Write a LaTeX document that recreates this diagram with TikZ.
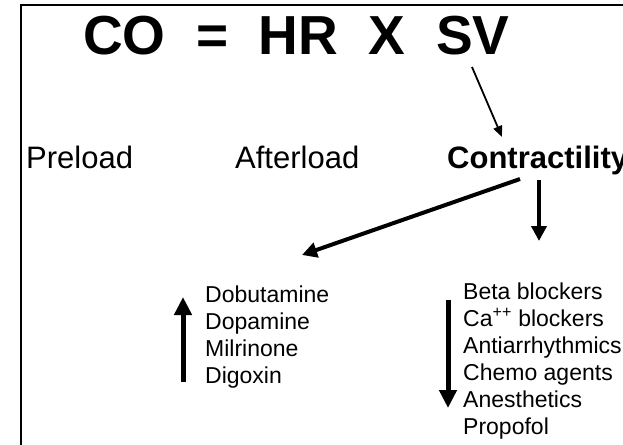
\documentclass[tikz,border=0pt]{standalone}
\usepackage{fontspec}
\setmainfont{Liberation Sans}
\usetikzlibrary{arrows.meta}
\begin{document}
\begin{tikzpicture}[x=1pt,y=-1pt,
  lbl/.style={inner sep=0pt, anchor=base west},
  midfont/.style={font=\fontsize{31}{36}\selectfont},
  listnode/.style={inner sep=0pt, anchor=north west, align=left, font=\fontsize{23}{27}\selectfont},
  thinarrow/.style={line width=1.8pt, -{Triangle[length=11pt,width=9pt]}},
  boldarrow/.style={line width=4pt, -{Triangle[length=15pt,width=15pt]}},
  listarrow/.style={line width=5pt, -{Triangle[length=18pt,width=17pt]}}]
\useasboundingbox (0,0) rectangle (623,444);
\clip (0,0) rectangle (623,444);
\fill[white] (0,0) rectangle (623,444);
\draw[line width=2pt] (21,450) -- (21,5) -- (630,5);
% title
\node[lbl, font=\bfseries\fontsize{55}{60}\selectfont] (eq) at (83,55) {CO\ \ =\ \ HR\ \ X\ \ SV};
% middle row
\node[lbl, midfont] (pre) at (26,168) {Preload};
\node[lbl, midfont] (after) at (235,168) {Afterload};
\node[lbl, midfont, font=\bfseries\fontsize{31}{36}\selectfont] (contr) at (447,168) {Contractility};
% lists
\node[listnode] (inc) at (205,286) {Dobutamine\\Dopamine\\Milrinone\\Digoxin};
\node[listnode] (dec) at (463,283) {Beta blockers\\Ca\textsuperscript{++} blockers\\Antiarrhythmics\\Chemo agents\\Anesthetics\\Propofol};
% arrow ends
\coordinate (svA) at (472,67); \coordinate (svB) at (502,137);
\coordinate (cL1) at (520,179); \coordinate (cL2) at (302,255);
\coordinate (cD1) at (539,180); \coordinate (cD2) at (539,241);
\coordinate (upA) at (183,382); \coordinate (upB) at (183,297);
\coordinate (dnA) at (448,300); \coordinate (dnB) at (448,408);
\draw[thinarrow] (svA) -- (svB);
\draw[boldarrow] (cL1) -- (cL2);
\draw[boldarrow] (cD1) -- (cD2);
\draw[listarrow] (upA) -- (upB);
\draw[listarrow] (dnA) -- (dnB);
\end{tikzpicture}
\end{document}
